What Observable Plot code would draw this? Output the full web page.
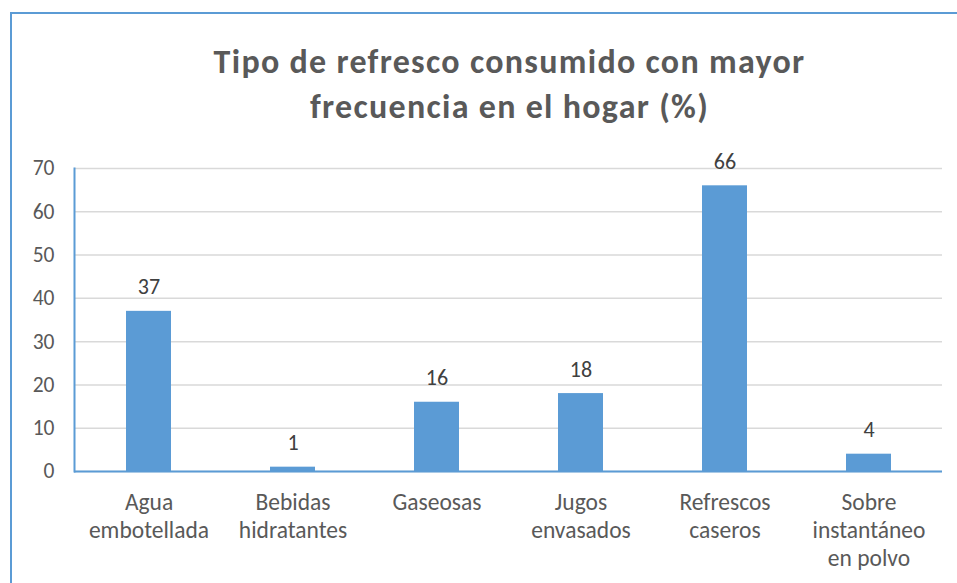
<!DOCTYPE html>
<html>
<head>
<meta charset="utf-8">
<script src="https://cdn.jsdelivr.net/npm/d3@7"></script>
<script src="https://cdn.jsdelivr.net/npm/@observablehq/plot@0.6"></script>
<style>
  html, body { margin: 0; padding: 0; background: #ffffff; overflow: hidden; }
  #wrap { position: relative; width: 957px; height: 583px; overflow: hidden; background: #fff; }
  #bTop { position: absolute; left: 10px; top: 12px; width: 947px; height: 2px; background: #5b9bd5; }
  #bLeft { position: absolute; left: 10px; top: 12px; width: 2px; height: 571px; background: #5b9bd5; }
  #title { position: absolute; left: 31px; top: 39px; width: 957px; text-align: center;
           font-family: Carlito, Calibri, Lato, sans-serif; font-weight: bold; font-size: 34px;
           letter-spacing: 1.3px; line-height: 45px; color: #595959; white-space: nowrap; }
  #chart { position: absolute; left: 0; top: 0; }
</style>
</head>
<body>
<div id="wrap">
  <div id="bTop"></div>
  <div id="bLeft"></div>
  <div id="chart"></div>
  <div id="title">Tipo de refresco consumido con mayor<br>frecuencia en el hogar (%)</div>
</div>
<script>
const categories = ["Agua\nembotellada", "Bebidas\nhidratantes", "Gaseosas", "Jugos\nenvasados", "Refrescos\ncaseros", "Sobre\ninstantáneo\nen polvo"];
const values = [37, 1, 16, 18, 66, 4];
const yTicks = [0, 10, 20, 30, 40, 50, 60, 70];

const data = categories.map((c, i) => ({cat: c, value: values[i]}));
const blue = "#5b9bd5";
const font = "Carlito, Calibri, Lato, sans-serif";

const chart = Plot.plot({
  width: 957,
  height: 583,
  marginLeft: 74,
  marginRight: 15,
  marginTop: 168,
  marginBottom: 112,
  style: {fontFamily: font, background: "transparent", color: "#595959"},
  x: {domain: categories, paddingInner: 0.69, paddingOuter: 0.345, align: 0.5, label: null},
  y: {domain: [0, 70], ticks: yTicks, label: null},
  marks: [
    Plot.gridY(yTicks, {stroke: "#d9d9d9", strokeOpacity: 1, strokeWidth: 1.5}),
    Plot.barY(data, {x: "cat", y: "value", fill: blue}),
    Plot.ruleY([0], {stroke: blue, strokeWidth: 2}),
    Plot.frame({anchor: "left", stroke: blue, strokeWidth: 2}),
    Plot.text(data, {x: "cat", y: "value", text: d => String(d.value), lineAnchor: "bottom", dy: -17, fontSize: 22, fill: "#404040", fontFamily: font}),
    Plot.axisY(yTicks, {tickSize: 0, tickPadding: 20, fontSize: 21.5, fill: "#595959", fontFamily: font, label: null}),
    Plot.axisX({tickSize: 0, tickPadding: 19, fontSize: 23.5, lineHeight: 1.19, fill: "#595959", fontFamily: font, label: null})
  ]
});
document.getElementById("chart").appendChild(chart);
</script>
</body>
</html>
